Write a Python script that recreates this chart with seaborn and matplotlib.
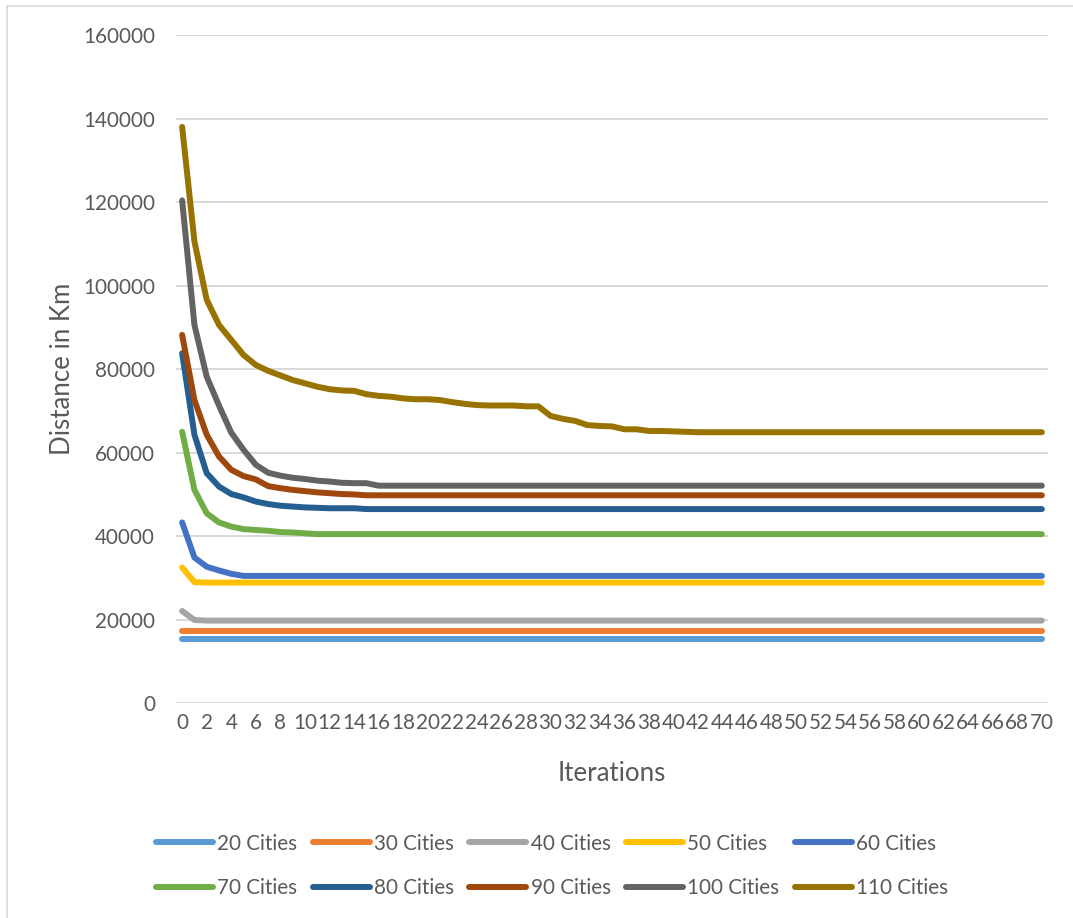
import matplotlib
matplotlib.use("Agg")
import matplotlib.pyplot as plt
from matplotlib.lines import Line2D
from matplotlib.patches import Rectangle
import pandas as pd
import seaborn as sns

# Best tour distance per iteration for each problem size
iterations = list(range(71))

cities_20 = [
    15300, 15300, 15300, 15300, 15300, 15300, 15300, 15300, 15300, 15300,
    15300, 15300, 15300, 15300, 15300, 15300, 15300, 15300, 15300, 15300,
    15300, 15300, 15300, 15300, 15300, 15300, 15300, 15300, 15300, 15300,
    15300, 15300, 15300, 15300, 15300, 15300, 15300, 15300, 15300, 15300,
    15300, 15300, 15300, 15300, 15300, 15300, 15300, 15300, 15300, 15300,
    15300, 15300, 15300, 15300, 15300, 15300, 15300, 15300, 15300, 15300,
    15300, 15300, 15300, 15300, 15300, 15300, 15300, 15300, 15300, 15300,
    15300,
]
cities_30 = [
    17200, 17200, 17200, 17200, 17200, 17200, 17200, 17200, 17200, 17200,
    17200, 17200, 17200, 17200, 17200, 17200, 17200, 17200, 17200, 17200,
    17200, 17200, 17200, 17200, 17200, 17200, 17200, 17200, 17200, 17200,
    17200, 17200, 17200, 17200, 17200, 17200, 17200, 17200, 17200, 17200,
    17200, 17200, 17200, 17200, 17200, 17200, 17200, 17200, 17200, 17200,
    17200, 17200, 17200, 17200, 17200, 17200, 17200, 17200, 17200, 17200,
    17200, 17200, 17200, 17200, 17200, 17200, 17200, 17200, 17200, 17200,
    17200,
]
cities_40 = [
    22100, 19950, 19800, 19800, 19800, 19800, 19800, 19800, 19800, 19800,
    19800, 19800, 19800, 19800, 19800, 19800, 19800, 19800, 19800, 19800,
    19800, 19800, 19800, 19800, 19800, 19800, 19800, 19800, 19800, 19800,
    19800, 19800, 19800, 19800, 19800, 19800, 19800, 19800, 19800, 19800,
    19800, 19800, 19800, 19800, 19800, 19800, 19800, 19800, 19800, 19800,
    19800, 19800, 19800, 19800, 19800, 19800, 19800, 19800, 19800, 19800,
    19800, 19800, 19800, 19800, 19800, 19800, 19800, 19800, 19800, 19800,
    19800,
]
cities_50 = [
    32500, 29000, 28900, 28900, 28900, 28900, 28900, 28900, 28900, 28900,
    28900, 28900, 28900, 28900, 28900, 28900, 28900, 28900, 28900, 28900,
    28900, 28900, 28900, 28900, 28900, 28900, 28900, 28900, 28900, 28900,
    28900, 28900, 28900, 28900, 28900, 28900, 28900, 28900, 28900, 28900,
    28900, 28900, 28900, 28900, 28900, 28900, 28900, 28900, 28900, 28900,
    28900, 28900, 28900, 28900, 28900, 28900, 28900, 28900, 28900, 28900,
    28900, 28900, 28900, 28900, 28900, 28900, 28900, 28900, 28900, 28900,
    28900,
]
cities_60 = [
    43300, 34900, 32700, 31800, 31000, 30500, 30500, 30500, 30500, 30500,
    30500, 30500, 30500, 30500, 30500, 30500, 30500, 30500, 30500, 30500,
    30500, 30500, 30500, 30500, 30500, 30500, 30500, 30500, 30500, 30500,
    30500, 30500, 30500, 30500, 30500, 30500, 30500, 30500, 30500, 30500,
    30500, 30500, 30500, 30500, 30500, 30500, 30500, 30500, 30500, 30500,
    30500, 30500, 30500, 30500, 30500, 30500, 30500, 30500, 30500, 30500,
    30500, 30500, 30500, 30500, 30500, 30500, 30500, 30500, 30500, 30500,
    30500,
]
cities_70 = [
    65000, 51100, 45500, 43300, 42300, 41700, 41500, 41300, 41000, 40900,
    40700, 40500, 40500, 40500, 40500, 40500, 40500, 40500, 40500, 40500,
    40500, 40500, 40500, 40500, 40500, 40500, 40500, 40500, 40500, 40500,
    40500, 40500, 40500, 40500, 40500, 40500, 40500, 40500, 40500, 40500,
    40500, 40500, 40500, 40500, 40500, 40500, 40500, 40500, 40500, 40500,
    40500, 40500, 40500, 40500, 40500, 40500, 40500, 40500, 40500, 40500,
    40500, 40500, 40500, 40500, 40500, 40500, 40500, 40500, 40500, 40500,
    40500,
]
cities_80 = [
    83800, 64300, 55100, 51900, 50100, 49300, 48300, 47700, 47300, 47100,
    46900, 46800, 46700, 46700, 46700, 46500, 46500, 46500, 46500, 46500,
    46500, 46500, 46500, 46500, 46500, 46500, 46500, 46500, 46500, 46500,
    46500, 46500, 46500, 46500, 46500, 46500, 46500, 46500, 46500, 46500,
    46500, 46500, 46500, 46500, 46500, 46500, 46500, 46500, 46500, 46500,
    46500, 46500, 46500, 46500, 46500, 46500, 46500, 46500, 46500, 46500,
    46500, 46500, 46500, 46500, 46500, 46500, 46500, 46500, 46500, 46500,
    46500,
]
cities_90 = [
    88200, 72600, 64300, 59100, 55900, 54400, 53600, 52000, 51500, 51100,
    50800, 50500, 50300, 50100, 50000, 49800, 49800, 49800, 49800, 49800,
    49800, 49800, 49800, 49800, 49800, 49800, 49800, 49800, 49800, 49800,
    49800, 49800, 49800, 49800, 49800, 49800, 49800, 49800, 49800, 49800,
    49800, 49800, 49800, 49800, 49800, 49800, 49800, 49800, 49800, 49800,
    49800, 49800, 49800, 49800, 49800, 49800, 49800, 49800, 49800, 49800,
    49800, 49800, 49800, 49800, 49800, 49800, 49800, 49800, 49800, 49800,
    49800,
]
cities_100 = [
    120400, 90600, 78200, 71300, 64800, 60700, 57100, 55200, 54500, 54000,
    53700, 53300, 53100, 52800, 52700, 52700, 52100, 52100, 52100, 52100,
    52100, 52100, 52100, 52100, 52100, 52100, 52100, 52100, 52100, 52100,
    52100, 52100, 52100, 52100, 52100, 52100, 52100, 52100, 52100, 52100,
    52100, 52100, 52100, 52100, 52100, 52100, 52100, 52100, 52100, 52100,
    52100, 52100, 52100, 52100, 52100, 52100, 52100, 52100, 52100, 52100,
    52100, 52100, 52100, 52100, 52100, 52100, 52100, 52100, 52100, 52100,
    52100,
]
cities_110 = [
    138000, 110600, 96600, 90600, 87000, 83400, 81000, 79600, 78500, 77400,
    76600, 75800, 75200, 74900, 74800, 74000, 73600, 73400, 73000, 72800,
    72800, 72600, 72100, 71700, 71400, 71300, 71300, 71300, 71100, 71100,
    68800, 68100, 67600, 66600, 66400, 66300, 65600, 65600, 65200, 65200,
    65100, 65000, 64900, 64900, 64900, 64900, 64900, 64900, 64900, 64900,
    64900, 64900, 64900, 64900, 64900, 64900, 64900, 64900, 64900, 64900,
    64900, 64900, 64900, 64900, 64900, 64900, 64900, 64900, 64900, 64900,
    64900,
]

series_names = ["20 Cities", "30 Cities", "40 Cities", "50 Cities", "60 Cities",
                "70 Cities", "80 Cities", "90 Cities", "100 Cities", "110 Cities"]
series_values = [cities_20, cities_30, cities_40, cities_50, cities_60,
                 cities_70, cities_80, cities_90, cities_100, cities_110]
series_colors = ["#5B9BD5", "#ED7D31", "#A5A5A5", "#FFC000", "#4472C4",
                 "#70AD47", "#255E91", "#9E480E", "#636363", "#997300"]

y_ticks = [0, 20000, 40000, 60000, 80000, 100000, 120000, 140000, 160000]
x_ticks = list(range(0, 71, 2))

rows = []
for name, vals in zip(series_names, series_values):
    for it, v in zip(iterations, vals):
        rows.append({"Iteration": it, "Distance": v, "Series": name})
df = pd.DataFrame(rows)

sns.set_theme(style="white")
plt.rcParams["font.family"] = ["Lato", "DejaVu Sans"]

TEXT = "#595959"
GRID = "#D9D9D9"
LW = 4.3

fig = plt.figure(figsize=(10.73, 9.18), dpi=100)
ax = fig.add_axes([176 / 1073, 1 - 703.3 / 918, 872 / 1073, 668.3 / 918])

palette = dict(zip(series_names, series_colors))
sns.lineplot(data=df, x="Iteration", y="Distance", hue="Series",
             hue_order=series_names, palette=palette, linewidth=LW,
             estimator=None, sort=False, legend=False, ax=ax)
for line in ax.lines:
    line.set_solid_capstyle("round")
    line.set_solid_joinstyle("round")

ax.set_xlim(-0.5, 70.5)
ax.set_ylim(0, 160000)
ax.set_yticks(y_ticks)
ax.set_yticklabels([str(t) for t in y_ticks])
ax.set_xticks(x_ticks)
ax.set_xticklabels([str(t) for t in x_ticks])
ax.grid(axis="y", color=GRID, linewidth=1.4)
ax.grid(axis="x", visible=False)
ax.set_axisbelow(True)
for side in ["top", "right", "left", "bottom"]:
    ax.spines[side].set_visible(False)
ax.tick_params(axis="both", length=0, labelsize=14.9, labelcolor=TEXT)
ax.tick_params(axis="y", pad=15)
ax.tick_params(axis="x", pad=7)

ax.set_xlabel("Iterations", fontsize=18.6, color=TEXT, labelpad=20)
ax.set_ylabel("Distance in Km", fontsize=18.6, color=TEXT, labelpad=6)

# Legend reads row by row: 20..60 on the first row, 70..110 on the second
handles = [Line2D([0], [0], color=c, linewidth=LW, solid_capstyle="round")
           for c in series_colors]
order = [0, 5, 1, 6, 2, 7, 3, 8, 4, 9]
fig.legend([handles[i] for i in order], [series_names[i] for i in order],
           ncol=5, loc="center",
           bbox_to_anchor=(552 / 1073, 1 - 866 / 918), frameon=False,
           fontsize=14.9, labelcolor=TEXT, handlelength=2.75,
           handletextpad=0.2, columnspacing=0.75, labelspacing=1.2)

fig.add_artist(Rectangle((7 / 1073, -0.01), 1.02, 1 - 6 / 918 + 0.01,
                         transform=fig.transFigure, fill=False,
                         edgecolor=GRID, linewidth=1.2))

fig.savefig("out.png", dpi=100, facecolor="white")
